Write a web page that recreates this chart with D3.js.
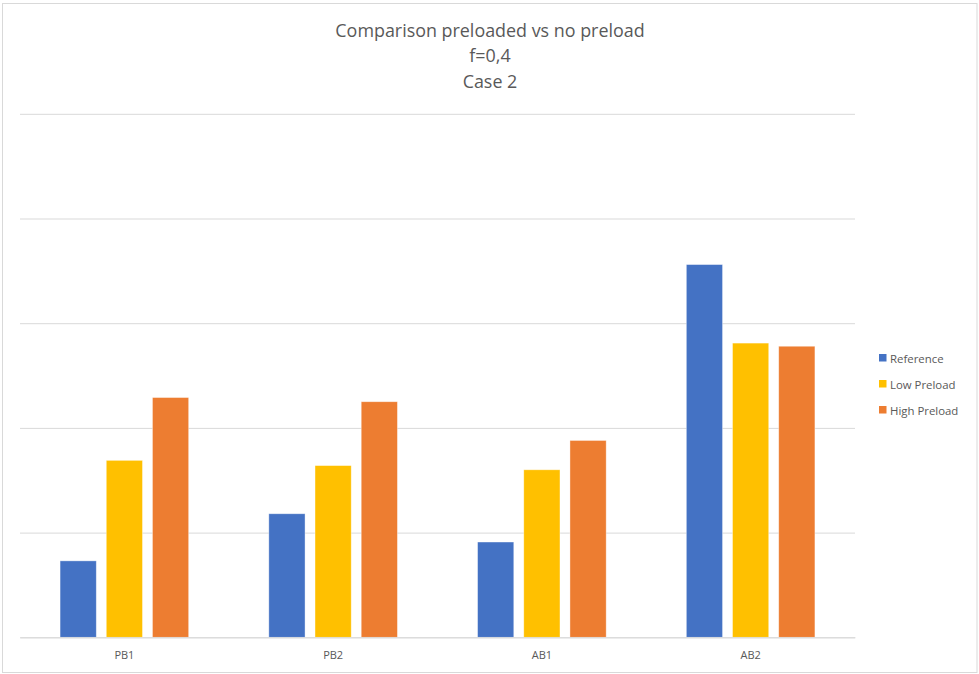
<!DOCTYPE html>
<html>
<head>
<meta charset="utf-8">
<script src="https://cdn.jsdelivr.net/npm/d3@7"></script>
<style>
  html, body { margin: 0; padding: 0; background: #ffffff; }
  svg { display: block; }
</style>
</head>
<body>
<svg id="chart" width="979" height="674"></svg>
<script>
// Chart data
const titleLines = ["Comparison preloaded vs no preload", "f=0,4", "Case 2"];
const categories = ["PB1", "PB2", "AB1", "AB2"];
const seriesNames = ["Reference", "Low Preload", "High Preload"];
const reference   = [0.73, 1.18, 0.91, 3.56];
const lowPreload  = [1.69, 1.64, 1.60, 2.81];
const highPreload = [2.29, 2.25, 1.88, 2.78];
const yTicks = [0, 1, 2, 3, 4, 5];
const colors = ["#4472C4", "#FFC000", "#ED7D31"];

const seriesValues = [reference, lowPreload, highPreload];
const rows = categories.map((c, i) => ({
  category: c,
  values: seriesNames.map((s, j) => ({ series: s, value: seriesValues[j][i], color: colors[j] }))
}));

const svg = d3.select("#chart");
const plot = { left: 20, right: 855, top: 113.8, bottom: 637.3 };

// Outer chart border
svg.append("rect")
  .attr("x", 2.5).attr("y", 3.5)
  .attr("width", 974.5).attr("height", 669)
  .attr("fill", "#ffffff")
  .attr("stroke", "#d9d9d9").attr("stroke-width", 1);

// Title
const title = svg.append("text")
  .attr("text-anchor", "middle")
  .attr("fill", "#595959")
  .style("font-family", "'Open Sans', 'Noto Sans', sans-serif")
  .style("font-size", "17.9px");
titleLines.forEach((t, i) => {
  title.append("tspan").attr("x", 490).attr("y", 36.5 + i * 25.5).text(t);
});

// Scales
const x0 = d3.scaleBand()
  .domain(categories)
  .range([plot.left, plot.right])
  .paddingInner(0.384)
  .paddingOuter(0.192);

const x1 = d3.scaleBand()
  .domain(seriesNames)
  .range([0, x0.bandwidth()])
  .paddingInner(0.216)
  .paddingOuter(0);

const y = d3.scaleLinear()
  .domain([0, 5])
  .range([plot.bottom, plot.top]);

// Horizontal gridlines (no tick labels)
const yAxis = d3.axisLeft(y)
  .tickValues(yTicks)
  .tickSize(-(plot.right - plot.left))
  .tickFormat("");
const gy = svg.append("g")
  .attr("transform", `translate(${plot.left},0)`)
  .call(yAxis);
gy.select(".domain").remove();
gy.selectAll(".tick line")
  .attr("stroke", "#d9d9d9")
  .attr("stroke-width", 1);

// Bars
const groups = svg.append("g").selectAll("g")
  .data(rows)
  .join("g")
  .attr("transform", d => `translate(${x0(d.category)},0)`);

groups.selectAll("rect")
  .data(d => d.values)
  .join("rect")
  .attr("x", d => x1(d.series))
  .attr("y", d => y(d.value))
  .attr("width", x1.bandwidth())
  .attr("height", d => y(0) - y(d.value))
  .attr("fill", d => d.color)
  .attr("stroke", "#ffffff")
  .attr("stroke-opacity", 0.5)
  .attr("stroke-width", 0.75);

// Category axis
const xAxis = d3.axisBottom(x0).tickSize(0).tickPadding(0);
const gx = svg.append("g")
  .attr("transform", `translate(0,${plot.bottom})`)
  .call(xAxis);
gx.select(".domain")
  .attr("stroke", "#d9d9d9");
gx.selectAll(".tick text")
  .attr("y", 22)
  .attr("dy", 0)
  .attr("fill", "#595959")
  .style("font-family", "'Open Sans', 'Noto Sans', sans-serif")
  .style("font-size", "11px");

// Legend
const legend = svg.append("g").attr("transform", "translate(879,0)");
const legendItems = legend.selectAll("g")
  .data(seriesNames)
  .join("g")
  .attr("transform", (d, i) => `translate(0,${354 + i * 26})`);
legendItems.append("rect")
  .attr("width", 7.5).attr("height", 7.5)
  .attr("fill", (d, i) => colors[i]);
legendItems.append("text")
  .attr("x", 11).attr("y", 8.5)
  .attr("fill", "#595959")
  .style("font-family", "'Open Sans', 'Noto Sans', sans-serif")
  .style("font-size", "11.4px")
  .text(d => d);
</script>
</body>
</html>
